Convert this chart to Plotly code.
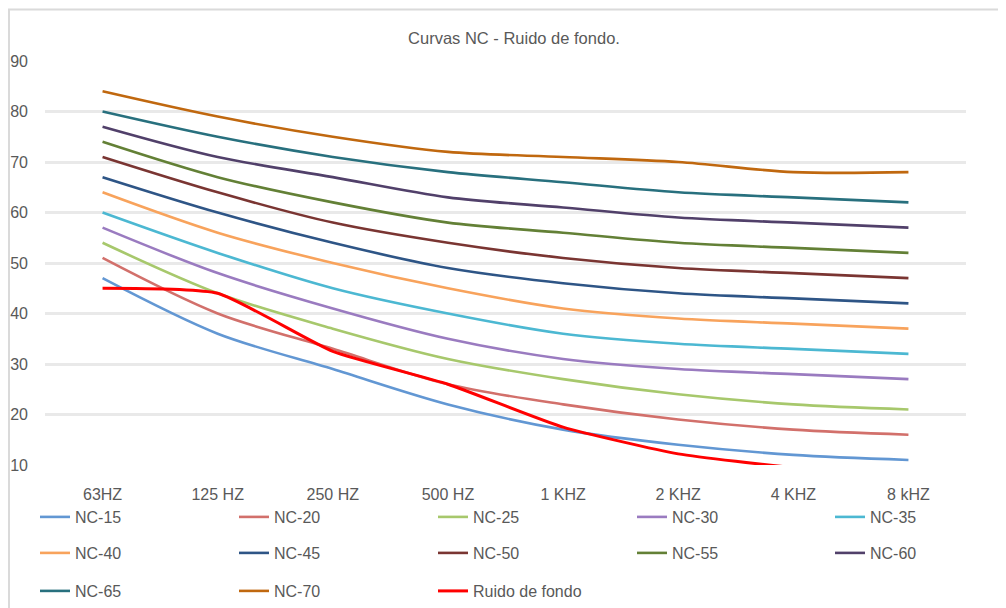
import plotly.graph_objects as go

categories = ["63HZ", "125 HZ", "250 HZ", "500 HZ", "1 KHZ", "2 KHZ", "4 KHZ", "8 kHZ"]

nc15 = [47, 36, 29, 22, 17, 14, 12, 11]
nc20 = [51, 40, 33, 26, 22, 19, 17, 16]
nc25 = [54, 44, 37, 31, 27, 24, 22, 21]
nc30 = [57, 48, 41, 35, 31, 29, 28, 27]
nc35 = [60, 52, 45, 40, 36, 34, 33, 32]
nc40 = [64, 56, 50, 45, 41, 39, 38, 37]
nc45 = [67, 60, 54, 49, 46, 44, 43, 42]
nc50 = [71, 64, 58, 54, 51, 49, 48, 47]
nc55 = [74, 67, 62, 58, 56, 54, 53, 52]
nc60 = [77, 71, 67, 63, 61, 59, 58, 57]
nc65 = [80, 75, 71, 68, 66, 64, 63, 62]
nc70 = [84, 79, 75, 72, 71, 70, 68, 68]
ruido = [45, 44, 32.5, 26, 17.5, 12.2, 9.5, 8]

series_names = ["NC-15", "NC-20", "NC-25", "NC-30", "NC-35", "NC-40",
                "NC-45", "NC-50", "NC-55", "NC-60", "NC-65", "NC-70", "Ruido de fondo"]
series_values = [nc15, nc20, nc25, nc30, nc35, nc40, nc45, nc50, nc55, nc60, nc65, nc70, ruido]
colors = ["#6297D3", "#D2706B", "#A7C86C", "#9A7BC0", "#4CB8D2", "#F8A35C",
          "#2E5586", "#7A3532", "#638036", "#51406A", "#28707E", "#C0680F", "#FF0000"]

# page body has an 8px default margin, so the figure is 8px smaller
W, H = 998, 600
L, R, T, B = 37, 958, 53, 457
pw, ph = R - L, B - T

# (left pixel, row-center pixel, use entrywidth) in figure coordinates
legend_specs = {
    "legend":  (27, 511, True),
    "legend2": (822, 511, False),
    "legend3": (27, 547, True),
    "legend4": (822, 547, False),
    "legend5": (27, 585, True),
}
legend_of = ["legend"] * 4 + ["legend2"] + ["legend3"] * 4 + ["legend4"] + ["legend5"] * 3

fig = go.Figure()
for name, vals, col, lg in zip(series_names, series_values, colors, legend_of):
    is_red = name.startswith("Ruido")
    fig.add_trace(go.Scatter(
        x=categories, y=vals, name=name, mode="lines",
        line=dict(color=col, width=3 if is_red else 2.6, shape="spline",
                  smoothing=0.5 if is_red else 0.9),
        legend=lg,
    ))

font_main = dict(family="Liberation Sans, Arial, sans-serif", size=16, color="#595959")

legends = {}
for key, (px, py, use_ew) in legend_specs.items():
    cfg = dict(
        orientation="h", x=(px - L) / pw, xanchor="left",
        y=(B - (py + 15)) / ph, yanchor="bottom",
        font=font_main, bgcolor="rgba(0,0,0,0)", itemwidth=30,
        traceorder="normal",
    )
    if use_ew:
        cfg.update(entrywidth=154, entrywidthmode="pixels")
    legends[key] = cfg

fig.update_layout(
    template="none",
    width=W, height=H,
    margin=dict(l=L, r=W - R, t=T, b=H - B, autoexpand=False),
    paper_bgcolor="white", plot_bgcolor="white",
    title=dict(text="Curvas NC - Ruido de fondo.", x=506 / W, xanchor="center",
               y=1 - 30 / H, yanchor="middle", automargin=False,
               font=dict(family="Liberation Sans, Arial, sans-serif", size=16.5, color="#595959")),
    showlegend=True,
    **legends,
    xaxis=dict(showgrid=False, zeroline=False, showline=False, ticks="", automargin=False,
               range=[-0.5, 7.5], tickfont=font_main, ticklabelstandoff=18),
    yaxis=dict(range=[10, 90], dtick=10, tick0=10, showgrid=True, automargin=False,
               gridcolor="#E9E9E9", gridwidth=2.5, zeroline=False, showline=False,
               ticks="", tickfont=font_main, ticklabelstandoff=16),
    shapes=[dict(type="rect", xref="paper", yref="paper",
                 x0=(1 - L) / pw, x1=(W + 5 - L) / pw,
                 y0=(B - H - 5) / ph, y1=(B - 1.5) / ph,
                 line=dict(color="#DADADA", width=2), fillcolor="rgba(0,0,0,0)",
                 layer="below")],
)

fig.write_html("out.html")
